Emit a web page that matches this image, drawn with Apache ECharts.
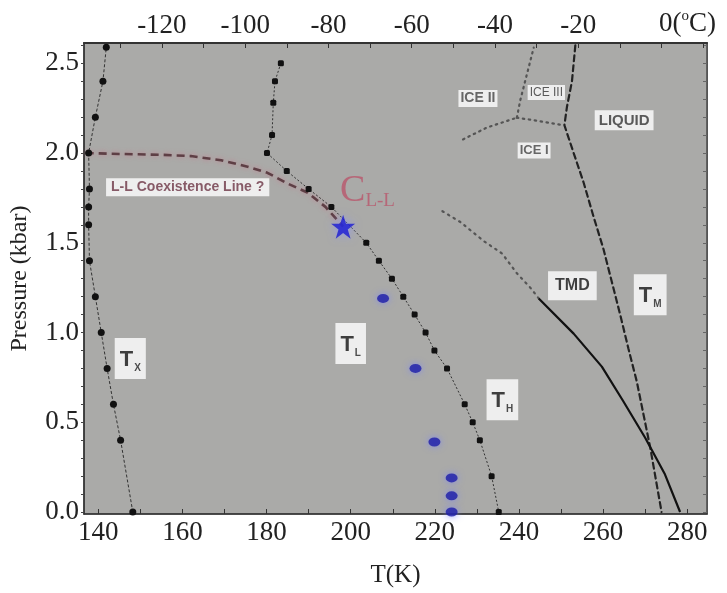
<!DOCTYPE html>
<html><head><meta charset="utf-8">
<script src="https://cdn.jsdelivr.net/npm/echarts/dist/echarts.min.js"></script>
<style>html,body{margin:0;padding:0;background:#fff}#c{width:727px;height:593px}</style>
</head><body><div id="c"></div>
<script>
// ---- data (T in K, P in kbar) ----
const txT = [148.2, 145.3, 143.6, 142.1, 140.7, 139.3, 137.9, 137.7, 137.7, 137.9, 137.7, 139.3, 141.1, 141.9];
const txP = [0.0, 0.4, 0.6, 0.8, 1.0, 1.2, 1.4, 1.6, 1.7, 1.8, 2.0, 2.2, 2.4, 2.59];
const thT = [183.4, 182.0, 181.6, 181.3, 180.1, 184.8, 190.0, 195.4, 203.7, 206.7, 209.8, 212.5, 215.2, 217.8, 219.9, 222.9, 227.1, 229.0, 230.7, 233.5, 235.2];
const thP = [2.5, 2.4, 2.28, 2.1, 2.0, 1.9, 1.8, 1.7, 1.5, 1.4, 1.3, 1.2, 1.1, 1.0, 0.9, 0.8, 0.6, 0.5, 0.4, 0.2, 0.0];
const tlT = [207.7, 215.4, 219.9, 224.0, 224.0, 224.0];
const tlP = [1.19, 0.8, 0.39, 0.19, 0.09, 0.0];
const cllT = [198.2];
const cllP = [1.59];
const llT = [137.0, 145.0, 155.0, 162.0, 169.2, 175.5, 180.2, 185.0, 189.7, 194.0, 198.2];
const llP = [2.0, 1.995, 1.99, 1.983, 1.96, 1.924, 1.89, 1.83, 1.78, 1.70, 1.59];
const tmT = [253.4, 252.6, 251.4, 250.8, 253.0, 255.4, 257.7, 260.1, 262.1, 264.1, 266.0, 268.0, 271.2, 273.9];
const tmP = [2.6, 2.4, 2.256, 2.155, 2.0, 1.833, 1.648, 1.464, 1.28, 1.096, 0.912, 0.728, 0.36, 0.0];
const tmdT = [244.7, 253.0, 259.7, 264.8, 270.0, 274.7, 278.3];
const tmdP = [1.19, 0.994, 0.81, 0.617, 0.414, 0.21, 0.0];
const tmdExtT = [221.8, 226.1, 231.6, 236.0, 239.5, 242.7, 244.7];
const tmdExtP = [1.676, 1.615, 1.51, 1.44, 1.33, 1.25, 1.19];
const ice21T = [226.7, 232.4, 239.5];
const ice21P = [2.076, 2.142, 2.197];
const ice23T = [239.5, 240.3, 241.9, 243.5];
const ice23P = [2.197, 2.293, 2.44, 2.587];
const ice31T = [239.5, 244.3, 250.6];
const ice31P = [2.197, 2.18, 2.155];
// tick labels
const xTicksK = [140, 160, 180, 200, 220, 240, 260, 280];
const xMinorK = [140, 150, 160, 170, 180, 190, 200, 210, 220, 230, 240, 250, 260, 270, 280];
const xTicksC = [-120, -100, -80, -60, -40, -20, 0];
const xMinorC = [-130, -120, -110, -100, -90, -80, -70, -60, -50, -40, -30, -20, -10, 0, 10];
const yTicks = [0, 0.5, 1.0, 1.5, 2.0, 2.5];
const yMinor = [0, 0.1, 0.2, 0.3, 0.4, 0.5, 0.6, 0.7, 0.8, 0.9, 1.0, 1.1, 1.2, 1.3, 1.4, 1.5, 1.6, 1.7, 1.8, 1.9, 2.0, 2.1, 2.2, 2.3, 2.4, 2.5, 2.6];
// annotation labels
const annoText = ['ICE II', 'ICE III', 'ICE I', 'LIQUID', 'L-L Coexistence Line ?', 'C|L-L', 'T|L', 'T|H', 'T|X', 'TMD', 'T|M'];
const annoT = [230.25, 246.5, 243.6, 265.0, 161.25, 204.0, 200.0, 236.06, 147.6, 252.7, 271.2];
const annoP = [2.304, 2.337, 2.014, 2.182, 1.809, 1.79, 0.939, 0.626, 0.856, 1.261, 1.211];

const pairs = (a, b) => a.map((v, i) => [v, b[i]]);
const SERIF = '"Liberation Serif", "DejaVu Serif", serif';
const SANS = '"Liberation Sans", Arial, sans-serif';
const FS = 27;

const boxSub = {
  backgroundColor: '#fff', padding: [9, 5, 6, 5], position: 'inside', formatter: p => {
    const s = p.data.txt.split('|'); return '{t|' + s[0] + '}{s|' + s[1] + '}';
  },
  rich: {
    t: { fontFamily: SANS, fontWeight: 'bold', fontSize: 22, color: '#111', lineHeight: 26 },
    s: { fontFamily: SANS, fontWeight: 'bold', fontSize: 10, color: '#222', lineHeight: 26, verticalAlign: 'bottom', padding: [8, 0, 0, 1] }
  }
};
function annoLabel(i) {
  const t = annoText[i];
  if (t === 'C|L-L') {
    return { show: true, position: 'inside', formatter: '{c|C}{s|L-L}',
      rich: { c: { fontFamily: SERIF, fontSize: 38, color: '#b9566b', lineHeight: 40 },
              s: { fontFamily: SERIF, fontSize: 19, color: '#b9566b', lineHeight: 40, verticalAlign: 'bottom', padding: [10, 0, 0, 0] } } };
  }
  if (t.indexOf('|') >= 0) return Object.assign({ show: true }, boxSub);
  const base = { show: true, position: 'inside', formatter: p => p.data.txt, backgroundColor: '#fff', fontFamily: SANS, fontWeight: 'bold', color: '#444', fontSize: 13, padding: [2, 2, 1, 2] };
  if (t === 'L-L Coexistence Line ?') Object.assign(base, { fontWeight: 'bold', fontSize: 14, color: '#6d3545', padding: [2, 5, 2, 5] });
  if (t === 'ICE III') Object.assign(base, { fontSize: 12, fontWeight: 'normal', color: '#333' });
  if (t === 'ICE II') Object.assign(base, { fontSize: 14 });
  if (t === 'LIQUID') Object.assign(base, { fontSize: 15, color: '#333', padding: [3, 4, 2, 4] });
  if (t === 'TMD') Object.assign(base, { fontSize: 16, color: '#111', padding: [7, 7, 6, 7] });
  return base;
}
const annoData = annoText.map((t, i) => ({ value: [annoT[i], annoP[i]], txt: t, label: annoLabel(i) }));

const dotted = (data, w, col, dash) => ({
  type: 'line', data: data, symbol: 'none', silent: true,
  lineStyle: { color: col, width: w, type: dash, cap: 'round' }, z: 3
});

const chart = echarts.init(document.getElementById('c'), null, { renderer: 'canvas' });
chart.setOption({
  animation: false,
  backgroundColor: '#fff',
  grid: { left: 83, right: 20, top: 43, bottom: 76, show: true, backgroundColor: '#aaaaa8', borderColor: '#333', borderWidth: 1.2 },
  xAxis: [{
    type: 'value', position: 'bottom', min: 136.6, max: 284.7,
    name: 'T(K)', nameLocation: 'middle', nameGap: 49,
    nameTextStyle: { fontFamily: SERIF, fontSize: 25, color: '#222' },
    axisLine: { show: true, onZero: false, lineStyle: { color: '#333', width: 1.5 } },
    axisTick: { show: true, inside: true, length: 5, customValues: xMinorK, lineStyle: { color: '#333' } },
    axisLabel: { customValues: xTicksK, fontFamily: SERIF, fontSize: FS, color: '#222', margin: 5 },
    splitLine: { show: false }
  }, {
    type: 'value', position: 'top', min: -138.7, max: 10.9,
    axisLine: { show: true, onZero: false, lineStyle: { color: '#333', width: 2.2 } },
    axisTick: { show: true, inside: true, length: 5, customValues: xMinorC, lineStyle: { color: '#333' } },
    axisLabel: {
      customValues: xTicksC, fontFamily: SERIF, fontSize: FS, color: '#222', margin: 4,
      formatter: v => v === 0 ? '{sp| }{p|0(}{o|o}{p|C)}' : String(v),
      rich: {
        sp: { width: 52, fontSize: FS },
        p: { fontFamily: SERIF, fontSize: FS, color: '#222', lineHeight: 30 },
        o: { fontFamily: SERIF, fontSize: 15, color: '#222', lineHeight: 30, verticalAlign: 'top', padding: [0, 0, 9, 0] }
      }
    },
    splitLine: { show: false }
  }],
  yAxis: [{
    type: 'value', position: 'left', min: -0.011, max: 2.613,
    name: 'Pressure (kbar)', nameLocation: 'middle', nameGap: 52,
    nameTextStyle: { fontFamily: SERIF, fontSize: 24, color: '#222' },
    axisLine: { show: true, onZero: false, lineStyle: { color: '#333', width: 1.5 } },
    axisTick: { show: true, inside: false, length: 3, customValues: yMinor, lineStyle: { color: '#444' } },
    axisLabel: { customValues: yTicks, fontFamily: SERIF, fontSize: FS, color: '#222', margin: 5, formatter: v => v.toFixed(1) },
    splitLine: { show: false }
  }, {
    type: 'value', position: 'right', min: -0.011, max: 2.613,
    axisLine: { show: true, onZero: false, lineStyle: { color: '#555', width: 1 } },
    axisTick: { show: true, inside: true, length: 4, customValues: yMinor, lineStyle: { color: '#666' } },
    axisLabel: { show: false }, splitLine: { show: false }
  }],
  series: [
    // L-L coexistence line
    { type: 'line', data: pairs(llT, llP), symbol: 'none', silent: true, z: 4,
      lineStyle: { color: '#5e3f45', width: 2.6, type: [8, 5], shadowColor: 'rgba(200,120,140,0.8)', shadowBlur: 5 } },
    // T_X
    { type: 'line', data: pairs(txT, txP), symbol: 'circle', symbolSize: 7, z: 5, silent: true,
      itemStyle: { color: '#111' }, lineStyle: { color: '#333', width: 1, type: [3, 2] } },
    // T_H
    { type: 'line', data: pairs(thT, thP), symbol: 'roundRect', symbolSize: 6, z: 5, silent: true,
      itemStyle: { color: '#111' }, lineStyle: { color: '#333', width: 1, type: [2, 2] } },
    // ice boundaries
    dotted(pairs(ice21T, ice21P), 2.2, '#555', [1.5, 4.5]),
    dotted(pairs(ice23T, ice23P), 2.2, '#555', [1.5, 4.5]),
    dotted(pairs(ice31T, ice31P), 2.2, '#555', [1.5, 4.5]),
    dotted(pairs(tmdExtT, tmdExtP), 2.2, '#555', [1.5, 5]),
    // T_M
    dotted(pairs(tmT, tmP), 2.2, '#222', [6, 4]),
    // TMD
    { type: 'line', data: pairs(tmdT, tmdP), symbol: 'none', silent: true, z: 4,
      lineStyle: { color: '#111', width: 2.2 } },
    // T_L
    { type: 'scatter', data: pairs(tlT, tlP), symbol: 'circle', symbolSize: [12, 9], z: 6, silent: true,
      itemStyle: { color: '#1c1ca6', shadowColor: 'rgba(120,130,255,0.95)', shadowBlur: 7 } },
    // C_LL star
    { type: 'scatter', data: pairs(cllT, cllP), z: 7, silent: true,
      symbol: 'path://M50,0 L61.8,35.1 L98.9,35.1 L68.9,56.7 L80.3,91.9 L50,70 L19.7,91.9 L31.1,56.7 L1.1,35.1 L38.2,35.1 Z',
      symbolSize: 24, itemStyle: { color: '#1a1ad2', shadowColor: 'rgba(140,150,255,1)', shadowBlur: 8 } },
    // annotations
    { type: 'scatter', data: annoData, symbolSize: 1, z: 10, silent: true,
      itemStyle: { color: 'transparent' } }
  ]
});
</script></body></html>
